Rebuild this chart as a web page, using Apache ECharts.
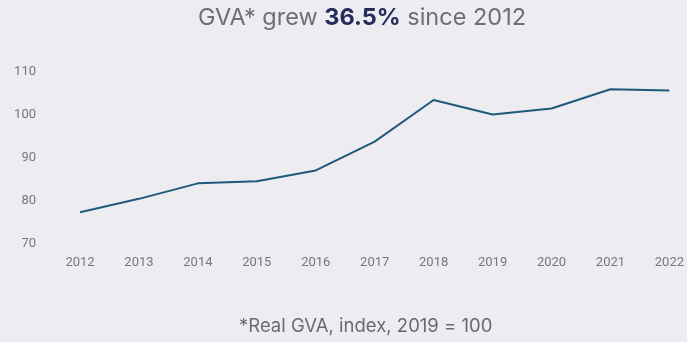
<!DOCTYPE html>
<html>
<head>
<meta charset="utf-8">
<script src="https://cdn.jsdelivr.net/npm/echarts@6/dist/echarts.min.js"></script>
<style>
  html, body { margin: 0; padding: 0; background: #ececf1; }
  #chart { width: 687px; height: 342px; }
</style>
</head>
<body>
<div id="chart"></div>
<script>
// Real GVA index (2019 = 100), 2012–2022
const years = ['2012', '2013', '2014', '2015', '2016', '2017', '2018', '2019', '2020', '2021', '2022'];
const gvaIndex = [77.4, 80.5, 84.1, 84.6, 87.1, 93.8, 103.5, 100.1, 101.5, 106.0, 105.7];
const growthLabel = '36.5%';
const footnote = '*Real GVA, index, 2019 = 100';

const chart = echarts.init(document.getElementById('chart'), null, { renderer: 'canvas' });

chart.setOption({
  backgroundColor: '#ececf1',
  animation: false,
  title: [
    {
      text: '{n|GVA* grew }{b|' + growthLabel + '}{n| since 2012}',
      left: 198,
      top: 6,
      padding: 0,
      textStyle: {
        rich: {
          n: { fontFamily: 'Inter', fontSize: 23.5, color: '#6e6e73', fontWeight: 400 },
          b: { fontFamily: 'Inter', fontSize: 23.5, color: '#262b5e', fontWeight: 700 }
        }
      }
    },
    {
      text: footnote,
      left: 239,
      top: 317,
      padding: 0,
      textStyle: { fontFamily: 'Inter', fontSize: 18.5, color: '#6a6a6f', fontWeight: 400 }
    }
  ],
  grid: { left: 80, right: 13, top: 72, bottom: 98, containLabel: false },
  xAxis: {
    type: 'category',
    data: years,
    boundaryGap: false,
    axisLine: { show: false },
    axisTick: { show: false },
    splitLine: { show: false },
    axisLabel: {
      margin: 12,
      color: '#77777c',
      fontSize: 13,
      fontFamily: 'Roboto, sans-serif'
    }
  },
  yAxis: {
    type: 'value',
    min: 70,
    max: 110,
    interval: 10,
    axisLine: { show: false },
    axisTick: { show: false },
    splitLine: { show: false },
    axisLabel: {
      margin: 44,
      color: '#77777c',
      fontSize: 13,
      fontFamily: 'Roboto, sans-serif'
    }
  },
  series: [
    {
      type: 'line',
      data: gvaIndex,
      showSymbol: false,
      smooth: false,
      lineStyle: { color: '#1f5a7b', width: 2 }
    }
  ]
});
</script>
</body>
</html>
